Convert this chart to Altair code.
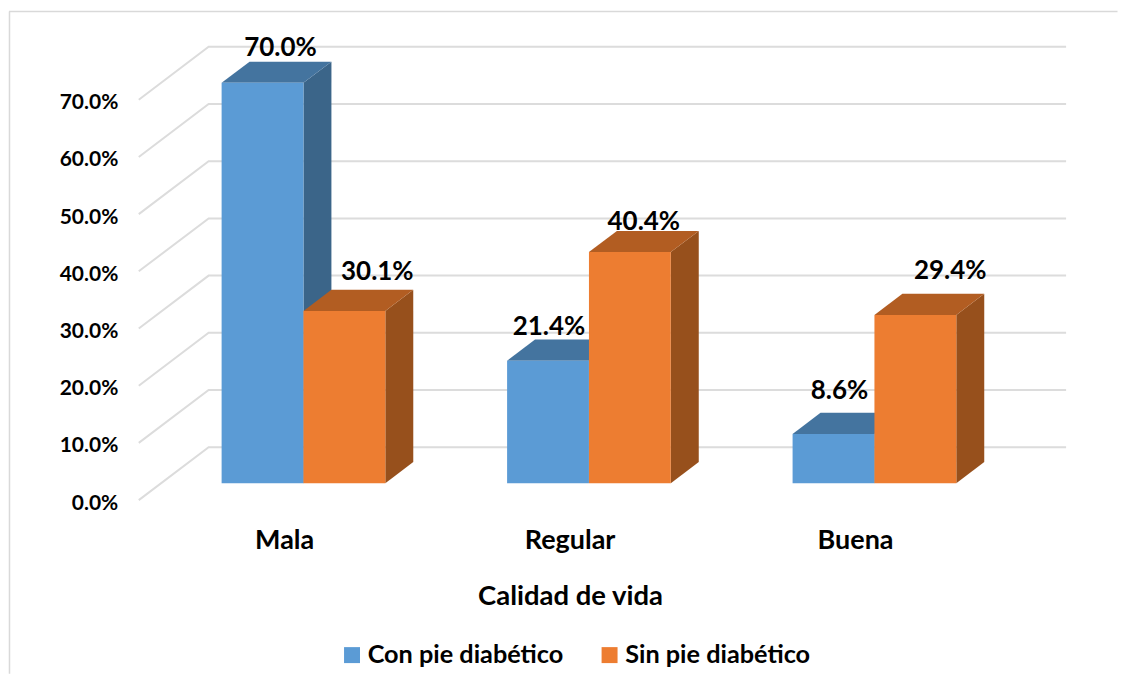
import altair as alt
import pandas as pd

categories = ["Mala", "Regular", "Buena"]
con_pie = [70.0, 21.4, 8.6]
sin_pie = [30.1, 40.4, 29.4]
series_names = ["Con pie diabético", "Sin pie diabético"]
grid_values = [0, 10, 20, 30, 40, 50, 60, 70]

# label nudges in pixels relative to the back-centre of each bar's top: (series, category) -> (right, up)
label_nudge = {
    (0, 0): (-10, 14), (0, 1): (-27, 13), (0, 2): (-22, 22),
    (1, 0): (5, 18), (1, 1): (-14, 9), (1, 2): (7, 23),
}

FONT = "Lato"
GRID = "#dcdcdc"
FRONT = ["#5b9bd5", "#ed7d31"]
TOP = ["#44749f", "#b25d22"]
SIDE = ["#3b6589", "#97501c"]

PX_PER_CAT = 286
PX_PER_PCT = 5.73
ORIGIN_PX = 280.6   # category 0 on the front floor edge
FLOOR_PX = 500

# oblique projection of the chart's depth axis, in data units
DEPTH_X = 70 / PX_PER_CAT
DEPTH_Y = 53 / PX_PER_PCT
BAR_W = 82 / PX_PER_CAT
BAR_FRONT, BAR_BACK = 0.32, 0.72


def xpx(p):
    return (p - ORIGIN_PX) / PX_PER_CAT


def ypx(p):
    return (FLOOR_PX - p) / PX_PER_PCT


X_DOM = [xpx(138), xpx(1067)]
Y_DOM = [0, 80]


def X(x, d=0.0):
    return x + d * DEPTH_X


def Y(v, d=0.0):
    return v + d * DEPTH_Y


x_scale = alt.Scale(domain=X_DOM, nice=False, zero=False)
y_scale = alt.Scale(domain=Y_DOM, nice=False, zero=False)

grid_rows = []
for g in grid_values:
    grid_rows += [
        {"g": g, "o": 0, "x": X(X_DOM[0]), "y": Y(g)},
        {"g": g, "o": 1, "x": X(X_DOM[0], 1), "y": Y(g, 1)},
        {"g": g, "o": 2, "x": X_DOM[1], "y": Y(g, 1)},
    ]
grid_df = pd.DataFrame(grid_rows)

front, side, top, labels = [], [], [], []
for s, vals in enumerate([con_pie, sin_pie]):
    for c, v in enumerate(vals):
        x0 = c - BAR_W if s == 0 else c
        x1 = x0 + BAR_W
        key = f"{s}-{c}"
        front.append({"s": s, "serie": series_names[s], "x": X(x0, BAR_FRONT), "x2": X(x1, BAR_FRONT),
                      "y": Y(v, BAR_FRONT), "y2": Y(0, BAR_FRONT)})
        side += [
            {"s": s, "k": key, "x": X(x1, BAR_FRONT), "y": Y(v, BAR_FRONT), "y2": Y(0, BAR_FRONT)},
            {"s": s, "k": key, "x": X(x1, BAR_BACK), "y": Y(v, BAR_BACK), "y2": Y(0, BAR_BACK)},
        ]
        top += [
            {"s": s, "k": key, "y": Y(v, BAR_FRONT), "x": X(x0, BAR_FRONT), "x2": X(x1, BAR_FRONT)},
            {"s": s, "k": key, "y": Y(v, BAR_BACK), "x": X(x0, BAR_BACK), "x2": X(x1, BAR_BACK)},
        ]
        nx, ny = label_nudge[(s, c)]
        labels.append({"t": f"{v:.1f}%",
                       "x": X((x0 + x1) / 2, BAR_BACK) + nx / PX_PER_CAT,
                       "y": Y(v, BAR_BACK) + ny / PX_PER_PCT})

front_df, side_df, top_df, labels_df = map(pd.DataFrame, (front, side, top, labels))

x_axis = alt.Axis(
    values=[0, 1, 2],
    labelExpr="['" + "','".join(categories) + "'][datum.value]",
    labelOffset=3, labelPadding=27, labelFont=FONT, labelFontSize=27, labelFontWeight="bold",
    labelColor="#000000", domain=False, ticks=False, grid=False, labelFlush=False,
    title="Calidad de vida", titleFont=FONT, titleFontSize=27.5, titleFontWeight="bold", titleColor="#000000",
    titleX=432, titleY=83, titleAnchor="middle", titleAlign="center",
)
y_axis = alt.Axis(
    values=grid_values, labelExpr="format(datum.value, '.1f') + '%'",
    labelPadding=21, labelOffset=3, labelFont=FONT, labelFontSize=21, labelFontWeight="bold", labelColor="#000000",
    domain=False, ticks=False, grid=False, labelFlush=False, title=None,
)

xq = alt.X("x:Q", scale=x_scale, axis=x_axis, title="Calidad de vida")
yq = alt.Y("y:Q", scale=y_scale, axis=y_axis, title=None)

# chart frame: only top and left edges are visible
frame_top = alt.Chart(pd.DataFrame({"x": [xpx(8)], "x2": [xpx(1118.5)], "y": [ypx(10.5)]})).mark_rule(
    color="#d9d9d9", strokeWidth=1.5, clip=False
).encode(x=xq, x2="x2:Q", y=yq)
frame_left = alt.Chart(pd.DataFrame({"x": [xpx(8.5)], "y": [ypx(10.5)], "y2": [ypx(674)]})).mark_rule(
    color="#d9d9d9", strokeWidth=1.5, clip=False
).encode(x=xq, y=yq, y2="y2:Q")

grid = alt.Chart(grid_df).mark_line(color=GRID, strokeWidth=2).encode(
    x=xq, y=yq, detail="g:N", order="o:Q"
)

layers = [frame_top, frame_left, grid]
color_scale = alt.Scale(domain=series_names, range=FRONT)
legend = alt.Legend(
    orient="none", legendX=201, legendY=601, direction="horizontal", title=None,
    symbolType="square", symbolSize=256, symbolStrokeWidth=0, symbolOpacity=1,
    labelFont=FONT, labelFontSize=25.3, labelFontWeight="bold", labelColor="#000000",
    columnPadding=33, labelOffset=3, labelLimit=300,
)

for s in (0, 1):
    layers.append(
        alt.Chart(side_df[side_df.s == s]).mark_area(color=SIDE[s], opacity=1).encode(
            x=xq, y=yq, y2="y2:Q", detail="k:N"
        )
    )
    layers.append(
        alt.Chart(top_df[top_df.s == s]).mark_area(color=TOP[s], opacity=1, orient="horizontal").encode(
            x=xq, x2="x2:Q", y=yq, detail="k:N"
        )
    )
    layers.append(
        alt.Chart(front_df[front_df.s == s]).mark_rect(opacity=1).encode(
            x=xq, x2="x2:Q", y=yq, y2="y2:Q",
            color=alt.Color("serie:N", scale=color_scale, legend=legend),
        )
    )

text = alt.Chart(labels_df).mark_text(
    font=FONT, fontSize=26, fontWeight="bold", color="#000000", baseline="middle", align="center"
).encode(x=xq, y=yq, text="t:N")
layers.append(text)

chart = alt.layer(*layers).properties(
    width=929, height=458.4,
    padding={"left": 0, "top": 2, "right": 0, "bottom": 0},
    background="#ffffff",
).configure_view(stroke=None)

chart.save("out.html", embed_options={"renderer": "svg", "actions": False})
